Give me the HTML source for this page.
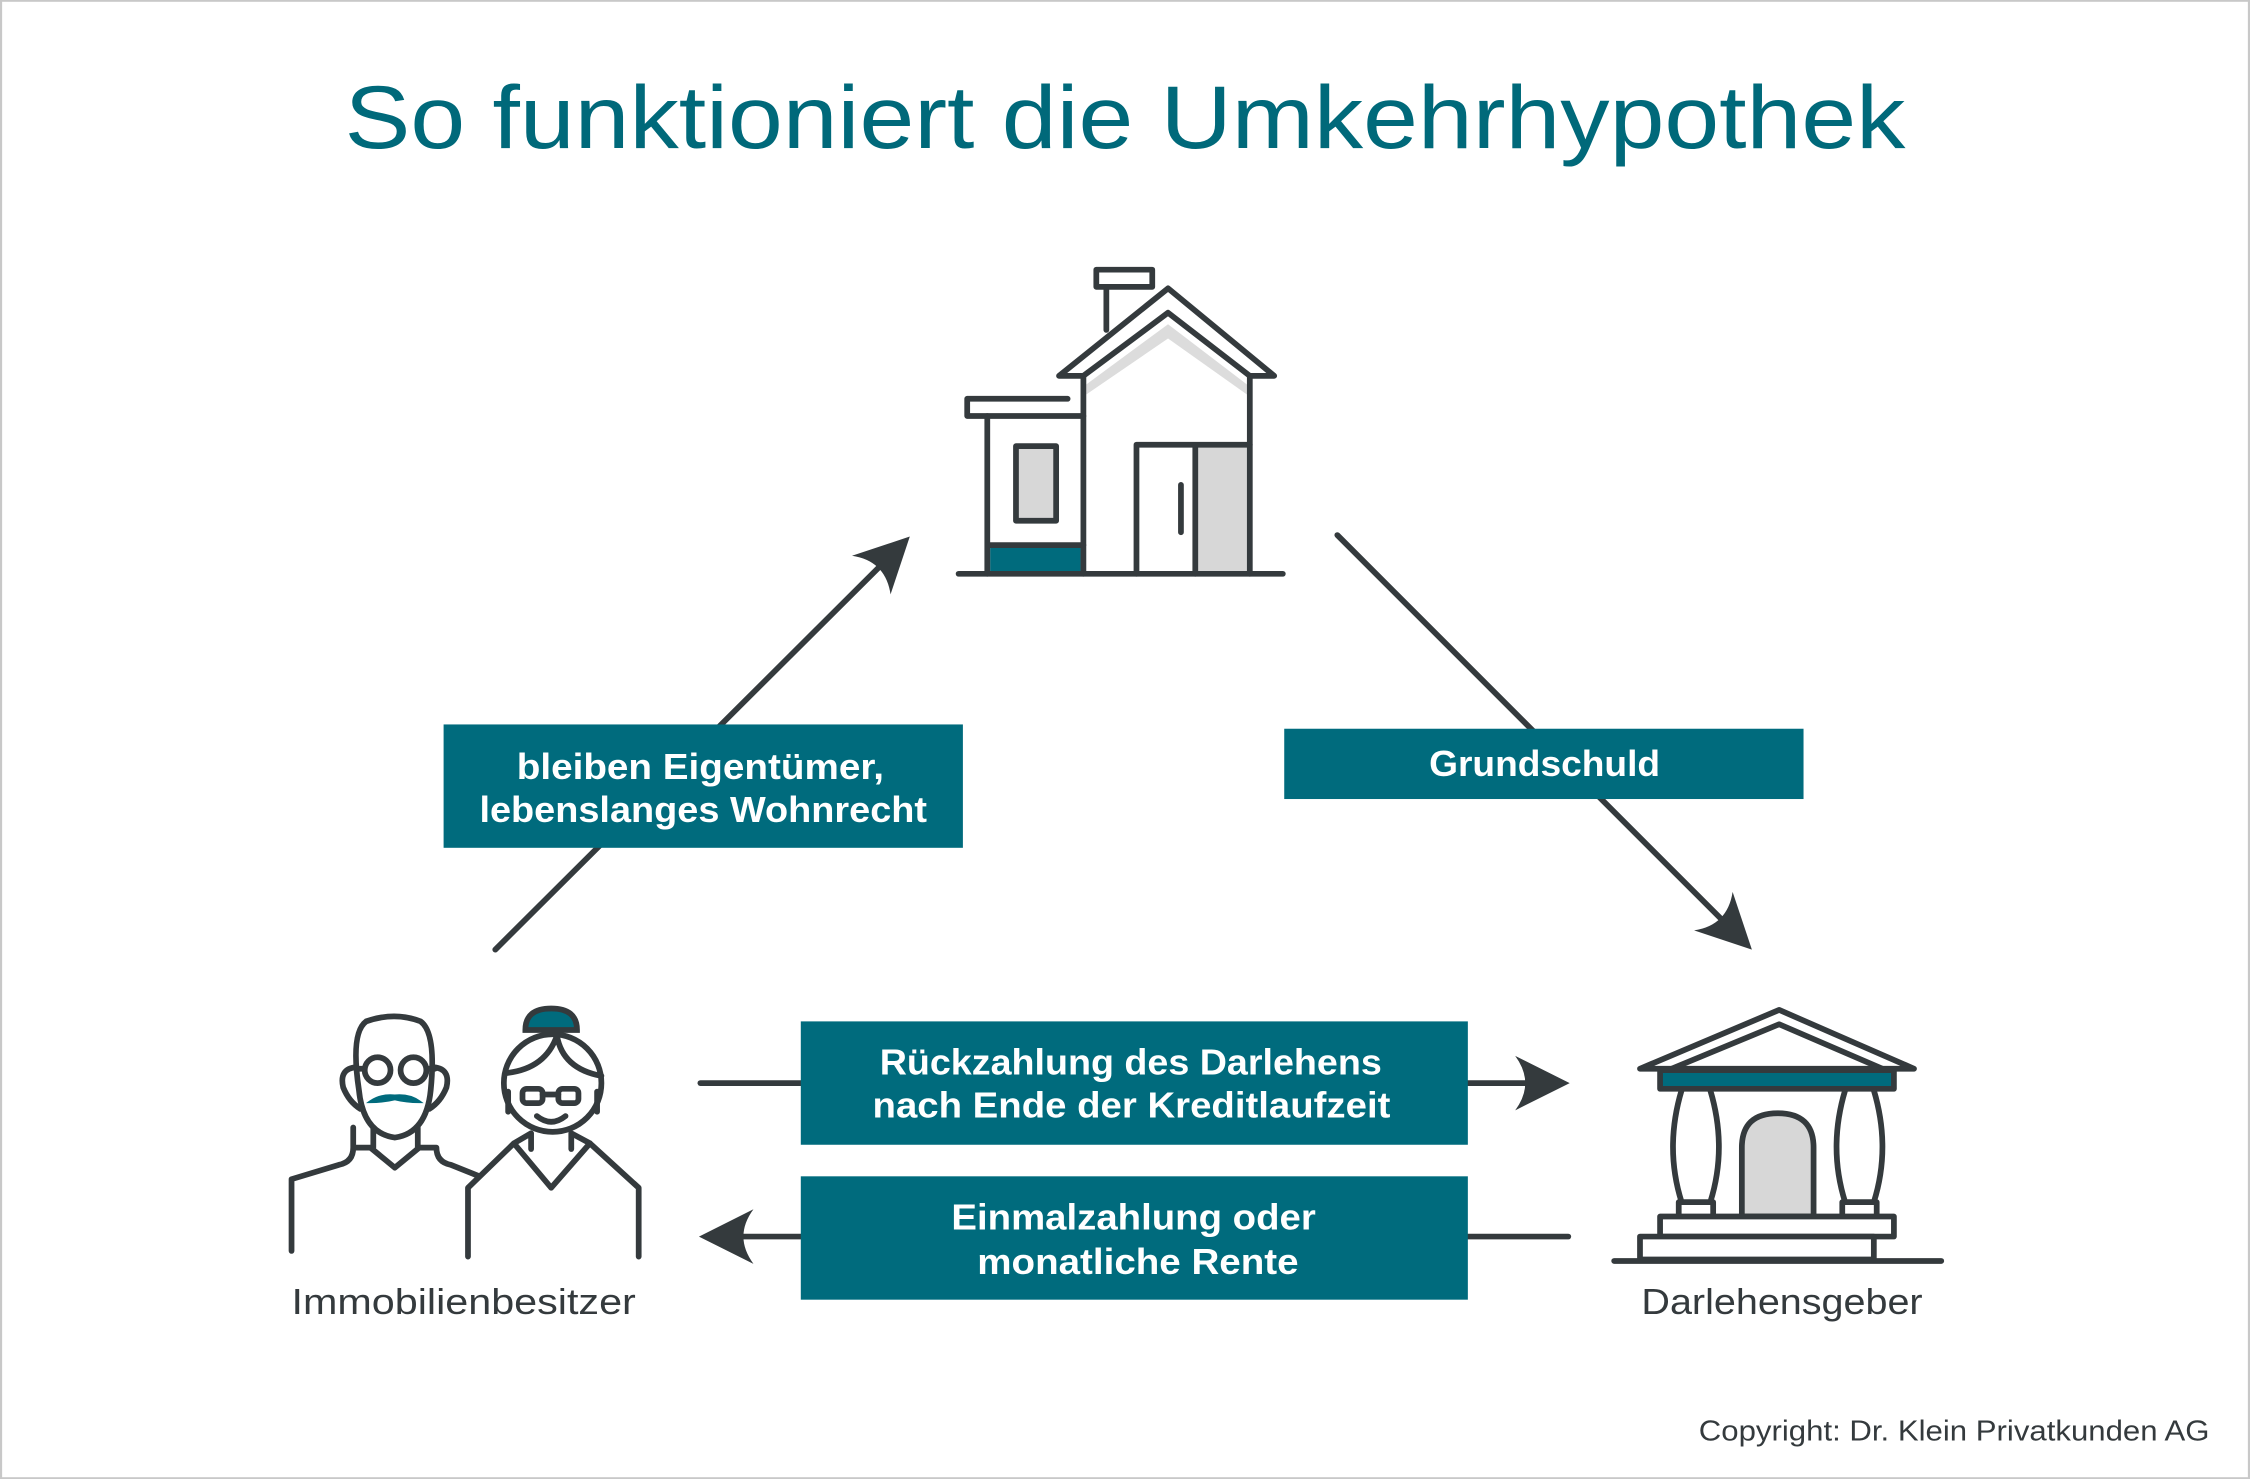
<!DOCTYPE html>
<html><head><meta charset="utf-8"><style>
html,body{margin:0;padding:0;background:#fff}
svg{display:block}
text{font-family:"Liberation Sans",sans-serif}
</style></head><body>
<svg width="2250" height="1479" viewBox="0 0 1568 1031" xmlns="http://www.w3.org/2000/svg">
<defs>
<path id="ah" d="M0,0 L-38,-19 Q-24,0 -38,19 Z" fill="#343a3d"/>
</defs>
<rect x="0.5" y="0.5" width="1567" height="1030" fill="#fff" stroke="#c8c8c8" stroke-width="1.5"/>
<text x="240" y="103" textLength="1088" lengthAdjust="spacingAndGlyphs" font-size="62" fill="#00697a">So funktioniert die Umkehrhypothek</text>

<g stroke="#343a3d" stroke-width="4" fill="none" stroke-linecap="round" stroke-linejoin="round">
<line x1="345" y1="662" x2="622" y2="386"/>
<line x1="932" y1="373" x2="1210" y2="651"/>
<line x1="488" y1="755" x2="1080" y2="755"/>
<line x1="1093" y1="862" x2="500" y2="862"/>
</g>
<use href="#ah" transform="translate(634,374) rotate(-45)"/>
<use href="#ah" transform="translate(1221,662) rotate(45)"/>
<use href="#ah" transform="translate(1094,755)"/>
<use href="#ah" transform="translate(487,862) rotate(180)"/>

<g fill="#006b7d">
<rect x="309" y="505" width="362" height="86"/>
<rect x="895" y="508" width="362" height="49"/>
<rect x="558" y="712" width="465" height="86"/>
<rect x="558" y="820" width="465" height="86"/>
</g>
<g fill="#fff" font-size="25" font-weight="bold">
<text x="360" y="543" textLength="256" lengthAdjust="spacingAndGlyphs">bleiben Eigentümer,</text>
<text x="334" y="573" textLength="312" lengthAdjust="spacingAndGlyphs">lebenslanges Wohnrecht</text>
<text x="996" y="541" textLength="161" lengthAdjust="spacingAndGlyphs">Grundschuld</text>
<text x="613" y="749" textLength="350" lengthAdjust="spacingAndGlyphs">Rückzahlung des Darlehens</text>
<text x="608" y="779" textLength="361" lengthAdjust="spacingAndGlyphs">nach Ende der Kreditlaufzeit</text>
<text x="663" y="857" textLength="254" lengthAdjust="spacingAndGlyphs">Einmalzahlung oder</text>
<text x="681" y="888" textLength="224" lengthAdjust="spacingAndGlyphs">monatliche Rente</text>
</g>

<g stroke="#343a3d" stroke-width="4" stroke-linejoin="round" stroke-linecap="round">
<rect x="690" y="380" width="63" height="19" fill="#006b7d" stroke="none"/>
<rect x="834" y="311" width="37" height="89" fill="#d7d7d7" stroke="none"/>
<path d="M757,268 L814,226 L869,268 L869,275 L814,236 L757,275Z" fill="#dcdcdc" stroke="none"/>
<rect x="708" y="311" width="28" height="52" fill="#d7d7d7"/>
<line x1="668" y1="400" x2="894" y2="400"/>
<path d="M688,290 V400 M688,380 H755" fill="none"/>
<path d="M674,278 H744 M674,278 V290 H755" fill="none"/>
<path d="M755,262 V400 M871,262 V400" fill="none"/>
<path d="M738,262 L814,201 L888,262 H871 L814,218 L755,262 Z" fill="#fff"/>
<rect x="764" y="188" width="39" height="12" fill="#fff"/>
<line x1="771" y1="200" x2="771" y2="230"/>
<path d="M792,400 V310 H871 M833,310 V400" fill="none"/>
<line x1="823" y1="338" x2="823" y2="371"/>
</g>

<g stroke="#343a3d" stroke-width="4" stroke-linejoin="round" stroke-linecap="round" fill="#fff">
<rect x="1157" y="746" width="163" height="13" fill="#006b7d"/>
<path d="M1143,745 L1240,704 L1334,745 Z"/>
<path d="M1165,745 L1240,714 L1312,745" fill="none"/>
<path d="M1214,848 V800 Q1214,776 1239,776 Q1264,776 1264,800 V848 Z" fill="#d7d7d7"/>
<path d="M1172,760 Q1160,800 1172,838 M1192,760 Q1204,800 1192,838 M1172,838 H1192 M1170,848 V838 M1194,848 V838" fill="none"/>
<path d="M1286,760 Q1274,800 1286,838 M1306,760 Q1318,800 1306,838 M1286,838 H1306 M1284,848 V838 M1308,848 V838" fill="none"/>
<rect x="1157" y="848" width="163" height="14"/>
<rect x="1143" y="862" width="163" height="16"/>
<line x1="1125" y1="879" x2="1353" y2="879"/>
</g>

<g stroke="#343a3d" stroke-width="4" stroke-linejoin="round" stroke-linecap="round" fill="none">
<path d="M250,760 Q244,720 255,712 Q275,705 293,712 Q304,720 300,760 Q297,790 275,793 Q253,790 250,760 Z" fill="#fff"/>
<path d="M248,744 Q236,745 239,758 Q243,768 251,773 M302,744 Q314,745 311,758 Q307,768 299,773"/>
<circle cx="263" cy="746" r="9"/><circle cx="288" cy="746" r="9"/>
<path d="M254,745 H248 M297,745 H303"/>
<path d="M260,786 V800 M291,786 V800"/>
<path d="M246,786 V800 Q246,810 236,812 L203,822 V872 M246,800 L258,800 L275,814 L292,800 L304,800 Q304,810 314,812 L334,820"/>
<path d="M326,876 V828 L358,797 L384,828 L411,797 L445,828 V876" fill="#fff"/>
<path d="M370,790 V801 M398,790 V801 M358,797 L370,790 M411,797 L398,790"/>
<circle cx="385" cy="755" r="34" fill="#fff"/>
<path d="M353,748 Q380,745 388,722 Q392,745 419,750"/>
<path d="M354,761 V775 M416,761 V775"/>
<rect x="364" y="759" width="14" height="10" rx="3"/><rect x="389" y="759" width="14" height="10" rx="3"/>
<path d="M378,763 H389 M374,778 Q384,786 394,778"/>
</g>
<path d="M366,718 Q366,703 384,703 Q402,703 402,718 Z" fill="#006b7d" stroke="#343a3d" stroke-width="4"/>
<path d="M258,768 Q265,763 275,764 Q285,763 292,768 Q283,768 275,766 Q267,768 258,768 Z" fill="#006b7d" stroke="#006b7d" stroke-width="2"/>

<g fill="#343a3d" font-size="25">
<text x="203" y="916" textLength="240" lengthAdjust="spacingAndGlyphs">Immobilienbesitzer</text>
<text x="1144" y="916" textLength="196" lengthAdjust="spacingAndGlyphs">Darlehensgeber</text>
</g>
<text x="1184" y="1004" textLength="356" lengthAdjust="spacingAndGlyphs" font-size="20" fill="#343a3d">Copyright: Dr. Klein Privatkunden AG</text>
</svg>
</body></html>
